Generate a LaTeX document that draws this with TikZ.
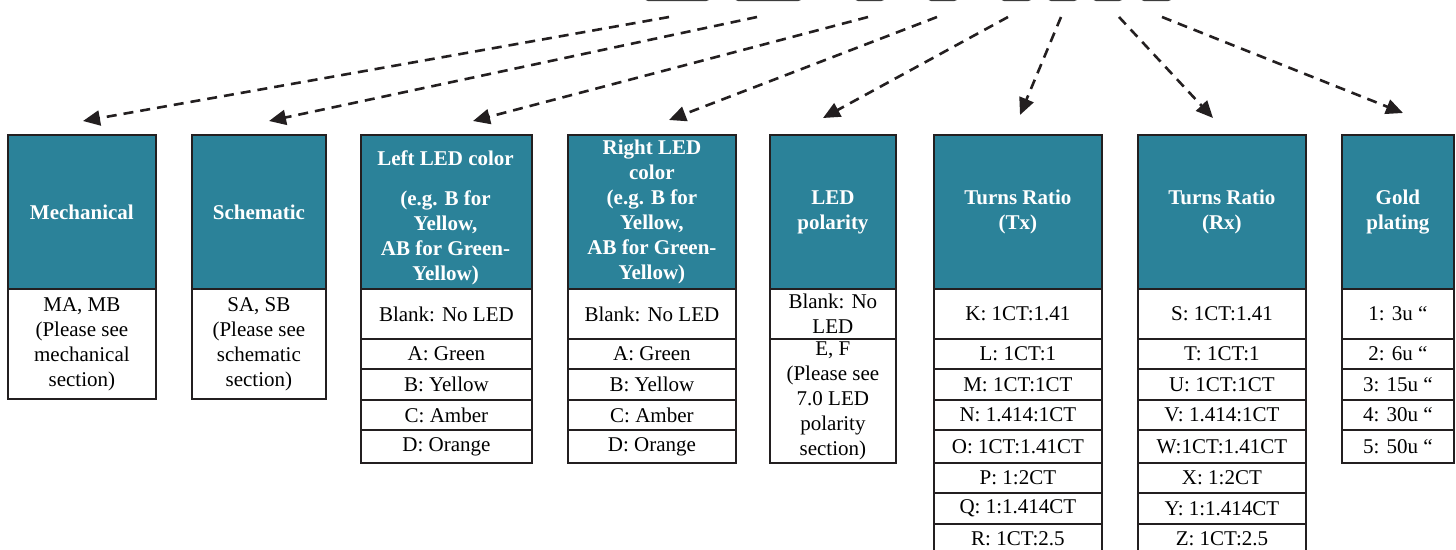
\documentclass[tikz,border=0pt]{standalone}
\usepackage{fontspec}
\setmainfont{Liberation Serif}
\usetikzlibrary{arrows.meta}
\definecolor{tealhd}{RGB}{43,130,153}
\definecolor{bd}{RGB}{35,31,32}
\definecolor{topbd}{RGB}{60,60,60}
\newcommand\cellbox[6]{\node[cell,minimum width=#4pt,minimum height=#5pt] (#1) at (#2,#3) {#6};}
\newcommand\hdrbox[5]{\node[hdr,minimum width=#3pt,minimum height=154pt] (#1) at (#2,134) {#4};}
\begin{document}
\begin{tikzpicture}[x=1pt,y=-1pt,
  font=\fontsize{21}{25}\selectfont,
  hdr/.style={draw=bd,line width=1.8pt,fill=tealhd,text=white,font=\fontsize{21}{25}\selectfont\bfseries,align=center,inner sep=0pt,anchor=north west},
  cell/.style={draw=bd,line width=1.8pt,fill=white,align=center,inner sep=0pt,anchor=north west},
  topbox/.style={draw=topbd,line width=2.4pt,fill=white,rounded corners=5pt,inner sep=0pt,anchor=south west},
  conn/.style={draw=bd,line width=2.6pt,dash pattern=on 10pt off 7pt,-{Triangle[length=17pt,width=15pt]}}]
\useasboundingbox (0,0) rectangle (1456,549);
% top (cut-off) boxes
\node[topbox,minimum width=68pt,minimum height=40pt] (top1) at (642,1) {};
\node[topbox,minimum width=70pt,minimum height=40pt] (top2) at (732,1) {};
\node[topbox,minimum width=33pt,minimum height=40pt] (top3) at (852,1) {};
\node[topbox,minimum width=33pt,minimum height=40pt] (top4) at (925,1) {};
\node[topbox,minimum width=34pt,minimum height=40pt] (top5) at (998,1) {};
\node[topbox,minimum width=33pt,minimum height=40pt] (top6) at (1045,1) {};
\node[topbox,minimum width=33pt,minimum height=40pt] (top7) at (1090,1) {};
\node[topbox,minimum width=34pt,minimum height=40pt] (top8) at (1138,1) {};
% headers
\hdrbox{h1}{7}{148}{Mechanical}{}
\hdrbox{h2}{191}{134}{Schematic}{}
\hdrbox{h3}{360}{171}{}{}
\node[font=\fontsize{21}{25}\selectfont\bfseries,text=white,align=center,inner sep=0pt] (h3t) at (445.5,218) {Left LED color\\[15pt](e.g. B for\\Yellow,\\AB for Green-\\Yellow)};
\hdrbox{h4}{567}{168}{Right LED\\color\\(e.g. B for\\Yellow,\\AB for Green-\\Yellow)}{}
\hdrbox{h5}{769}{126}{LED\\polarity}{}
\hdrbox{h6}{933}{168}{Turns Ratio\\(Tx)}{}
\hdrbox{h7}{1137}{168}{Turns Ratio\\(Rx)}{}
\hdrbox{h8}{1341}{112}{Gold\\plating}{}
% column 1 and 2
\cellbox{c1a}{7}{288}{148}{110}{MA, MB\\(Please see\\mechanical\\section)}
\cellbox{c2a}{191}{288}{134}{110}{SA, SB\\(Please see\\schematic\\section)}
% column 3
\cellbox{c3a}{360}{288}{171}{50}{Blank: No LED}
\cellbox{c3b}{360}{338}{171}{30}{A: Green}
\cellbox{c3c}{360}{368}{171}{31}{B: Yellow}
\cellbox{c3d}{360}{399}{171}{30}{C: Amber}
\cellbox{c3e}{360}{429}{171}{33}{D: Orange}
% column 4
\cellbox{c4a}{567}{288}{168}{50}{Blank: No LED}
\cellbox{c4b}{567}{338}{168}{30}{A: Green}
\cellbox{c4c}{567}{368}{168}{31}{B: Yellow}
\cellbox{c4d}{567}{399}{168}{30}{C: Amber}
\cellbox{c4e}{567}{429}{168}{33}{D: Orange}
% column 5
\cellbox{c5a}{769}{288}{126}{50}{Blank: No\\LED}
\cellbox{c5b}{769}{338}{126}{124}{E, F\\(Please see\\7.0 LED\\polarity\\section)}
% column 6
\cellbox{c6a}{933}{288}{168}{50}{K: 1CT:1.41}
\cellbox{c6b}{933}{338}{168}{30}{L: 1CT:1}
\cellbox{c6c}{933}{368}{168}{31}{M: 1CT:1CT}
\cellbox{c6d}{933}{399}{168}{30}{N: 1.414:1CT}
\cellbox{c6e}{933}{429}{168}{33}{O: 1CT:1.41CT}
\cellbox{c6f}{933}{462}{168}{30}{P: 1:2CT}
\cellbox{c6g}{933}{492}{168}{31}{Q: 1:1.414CT}
\cellbox{c6h}{933}{523}{168}{30}{R: 1CT:2.5}
% column 7
\cellbox{c7a}{1137}{288}{168}{50}{S: 1CT:1.41}
\cellbox{c7b}{1137}{338}{168}{30}{T: 1CT:1}
\cellbox{c7c}{1137}{368}{168}{31}{U: 1CT:1CT}
\cellbox{c7d}{1137}{399}{168}{30}{V: 1.414:1CT}
\cellbox{c7e}{1137}{429}{168}{33}{W:1CT:1.41CT}
\cellbox{c7f}{1137}{462}{168}{30}{X: 1:2CT}
\cellbox{c7g}{1137}{492}{168}{31}{Y: 1:1.414CT}
\cellbox{c7h}{1137}{523}{168}{30}{Z: 1CT:2.5}
% column 8
\cellbox{c8a}{1341}{288}{112}{50}{1: 3u “}
\cellbox{c8b}{1341}{338}{112}{30}{2: 6u “}
\cellbox{c8c}{1341}{368}{112}{31}{3: 15u “}
\cellbox{c8d}{1341}{399}{112}{30}{4: 30u “}
\cellbox{c8e}{1341}{429}{112}{33}{5: 50u “}
% connector ends
\coordinate (s1) at (669,17);  \coordinate (t1) at (83,121);
\coordinate (s2) at (757,17);  \coordinate (t2) at (269,121);
\coordinate (s3) at (868,17);  \coordinate (t3) at (473,121);
\coordinate (s4) at (937,17);  \coordinate (t4) at (669,120);
\coordinate (s5) at (1008,17); \coordinate (t5) at (823,118);
\coordinate (s6) at (1061,17); \coordinate (t6) at (1020,115);
\coordinate (s7) at (1119,17); \coordinate (t7) at (1213,118);
\coordinate (s8) at (1162,17); \coordinate (t8) at (1403,113);
\foreach \i in {1,...,8} { \draw[conn] (s\i) -- (t\i); }
\end{tikzpicture}
\end{document}
